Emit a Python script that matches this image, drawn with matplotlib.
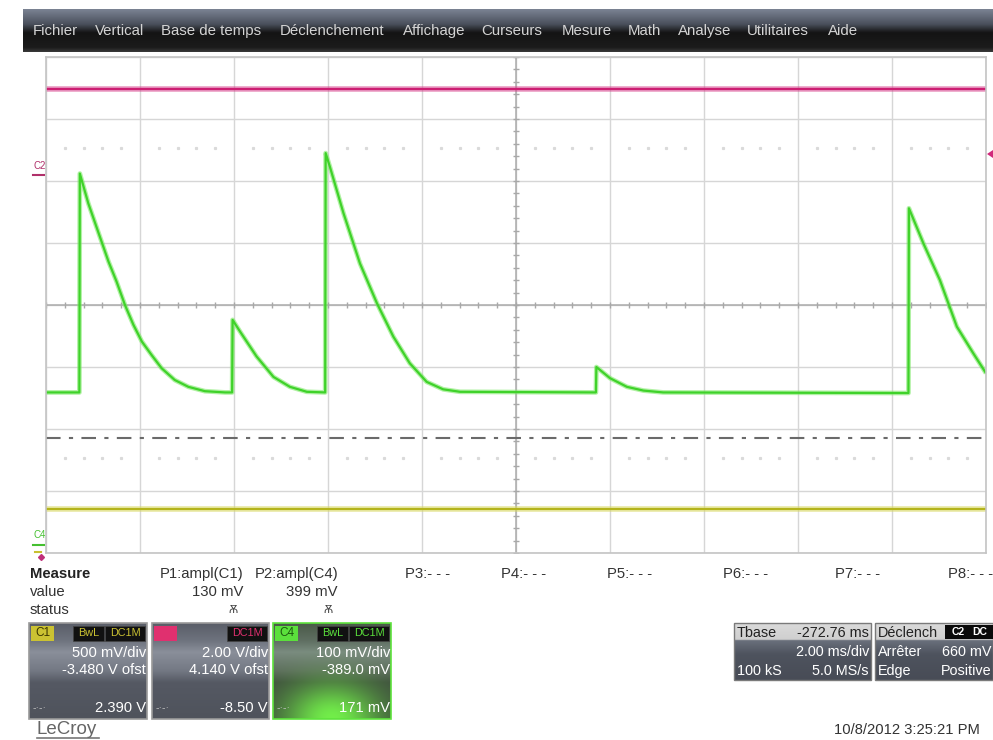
import numpy as np
import matplotlib
matplotlib.use("Agg")
import matplotlib.pyplot as plt
from matplotlib.patches import Rectangle, Polygon
from matplotlib.colors import to_rgb

plt.rcParams['font.family'] = ['Liberation Sans', 'DejaVu Sans']

# ---------------- data ----------------
menu_items = ["Fichier", "Vertical", "Base de temps", "Déclenchement", "Affichage",
              "Curseurs", "Mesure", "Math", "Analyse", "Utilitaires", "Aide"]

# C4 (green) trace: time in ms (trigger at 0), voltage in mV
c4_time_ms = [-10.00, -9.29, -9.28, -9.10, -8.89, -8.67, -8.50, -8.32, -8.14, -7.96, -7.75,
              -7.54, -7.26, -6.97, -6.62, -6.19, -6.04, -6.03, -5.87, -5.52, -5.16, -4.81,
              -4.45, -4.06, -4.05, -3.96, -3.67, -3.32, -2.96, -2.61, -2.26, -1.90, -1.55,
              -1.19, 1.70, 1.71, 2.00, 2.36, 2.71, 3.13, 8.35, 8.36, 8.67, 9.02, 9.38,
              9.73, 10.00]
c4_mV = [248, 248, 601, 553, 507, 459, 427, 389, 357, 330, 308,
         287, 268, 257, 250, 248, 248, 365, 346, 306, 273, 257,
         249, 248, 634, 612, 537, 456, 392, 338, 295, 265, 253,
         249, 248, 289, 271, 257, 251, 248, 247, 545, 488, 429, 354,
         311, 279]

# C2 (magenta) and C1 (yellow) traces: flat levels
c2_time_ms = [-10.0, 10.0]
c2_V = [2.82, 2.82]
c1_time_ms = [-10.0, 10.0]
c1_V = [1.835, 1.835]

# channel settings
c1_scale_V, c1_ofst_V = 0.5, -3.48
c2_scale_V, c2_ofst_V = 2.0, 4.14
c4_scale_mV, c4_ofst_mV = 100.0, -389.0
trigger_line_div = -2.15

measure_labels = ["P1:ampl(C1)", "P2:ampl(C4)", "P3:- - -", "P4:- - -",
                  "P5:- - -", "P6:- - -", "P7:- - -", "P8:- - -"]
measure_values = ["130 mV", "399 mV", "", "", "", "", "", ""]
measure_status = ["Ѫ", "Ѫ", "", "", "", "", "", ""]

channel_names = ["C1", "C2", "C4"]
channel_vdiv = ["500 mV/div", "2.00 V/div", "100 mV/div"]
channel_ofst = ["-3.480 V ofst", "4.140 V ofst", "-389.0 mV"]
channel_bottom = ["2.390 V", "-8.50 V", "171 mV"]

tbase_rows = [("Tbase", "-272.76 ms"), ("", "2.00 ms/div"), ("100 kS", "5.0 MS/s")]
trig_rows = [("Déclench", ""), ("Arrêter", "660 mV"), ("Edge", "Positive")]
date_text = "10/8/2012 3:25:21 PM"

# ---------------- figure ----------------
W, H = 993, 740
fig = plt.figure(figsize=(W / 100, H / 100), dpi=100, facecolor="white")

ov = fig.add_axes([0, 0, 1, 1])
ov.set_axis_off()
ov.patch.set_visible(False)


def grad_rect(x0, y0, x1, y1, stops, zorder=1):
    n = 100
    fr = np.linspace(0, 1, n)
    pos = [s[0] for s in stops]
    cols = np.array([to_rgb(s[1]) for s in stops])
    img = np.stack([np.interp(fr, pos, cols[:, k]) for k in range(3)], axis=-1)
    img = img[:, None, :]
    ov.imshow(img, extent=[x0, x1, y1, y0], aspect="auto", zorder=zorder,
              interpolation="bilinear")


# menu bar
grad_rect(23, 9, W, 52, [(0, "#7b8393"), (0.35, "#4a505c"), (0.55, "#141414"),
                         (0.9, "#1b1b1b"), (1.0, "#3a3a3a")])
menu_x = [33, 95, 161, 280, 403, 481, 562, 628, 678, 747, 828]
for name, x in zip(menu_items, menu_x):
    ov.text(x, 31, name, color="#d4d4d4", fontsize=10.8, va="center", ha="left", zorder=3)

# channel boxes
box_x = [(29, 147), (152, 269), (273, 391)]
tag_col = ["#cbc232", "#e0306f", "#5be03c"]
tag_txt = ["#3a3600", "#e0306f", "#1d5a10"]
by0, by1 = 623, 719
FS_BOX = 10.6
for i, (x0, x1) in enumerate(box_x):
    if i < 2:
        grad_rect(x0, by0, x1, by1, [(0, "#5a5e68"), (0.18, "#6e737e"), (0.3, "#8a8f9a"),
                                     (0.5, "#737883"), (0.62, "#555963"), (1.0, "#4f535c")])
    else:
        h, w = 100, 120
        yy, xx = np.mgrid[0:1:h * 1j, 0:1:w * 1j]
        pos = [0, 0.18, 0.3, 0.5, 0.62, 1.0]
        cols = np.array([to_rgb(c) for c in ["#4a5a48", "#5f6e62", "#7a8a80", "#5d6a5e",
                                              "#3e4a3e", "#3a463a"]])
        base = np.stack([np.interp(yy, pos, cols[:, k]) for k in range(3)], axis=-1)
        wgt = np.exp(-(((xx - 0.5) / 0.42) ** 2 + ((yy - 1.0) / 0.38) ** 2))
        glow = np.array(to_rgb("#72ee4a"))
        img = base * (1 - wgt[..., None]) + glow * wgt[..., None]
        ov.imshow(img, extent=[x0, x1, by1, by0], aspect="auto", zorder=1,
                  interpolation="bilinear")
    ec = "#5ee33c" if i == 2 else "#9a9a9a"
    ov.add_patch(Rectangle((x0, by0), x1 - x0, by1 - by0, fill=False, ec=ec, lw=1.2, zorder=2))
    # channel tag
    ov.add_patch(Rectangle((x0 + 2, 626), 23, 15, fc=tag_col[i], ec="none", zorder=3))
    ov.text(x0 + 13.5, 633.5, channel_names[i], color=tag_txt[i], fontsize=8.5,
            ha="center", va="center", zorder=4)
    # coupling tags
    if i != 1:
        ov.add_patch(Rectangle((x0 + 44, 626), 31, 15, fc="#111111", ec="#444", lw=0.5, zorder=3))
        ov.text(x0 + 59.5, 633.5, "BwL", color=tag_col[i], fontsize=7.8, ha="center",
                va="center", zorder=4)
    ov.add_patch(Rectangle((x1 - 42, 626), 40, 15, fc="#111111", ec="#444", lw=0.5, zorder=3))
    ov.text(x1 - 22, 633.5, "DC1M", color=tag_col[i], fontsize=7.8, ha="center",
            va="center", zorder=4)
    ov.text(x1 - 1, 653, channel_vdiv[i], color="white", fontsize=FS_BOX, ha="right",
            va="center", zorder=4)
    ov.text(x1 - 1, 670, channel_ofst[i], color="white", fontsize=FS_BOX, ha="right",
            va="center", zorder=4)
    ov.text(x1 - 1, 708, channel_bottom[i], color="white", fontsize=FS_BOX, ha="right",
            va="center", zorder=4)
    ov.text(x0 + 4, 708, "-·-·", color="#c0c0c0", fontsize=7.5, ha="left",
            va="center", zorder=4)

# time base / trigger boxes
for (x0, x1), rows, tag in [((734, 871), tbase_rows, False), ((875, 993), trig_rows, True)]:
    grad_rect(x0, 623, x1, 680, [(0, "#dadada"), (0.29, "#cfcfcf"), (0.3, "#6a707c"),
                                 (0.55, "#4e535e"), (1.0, "#484c56")])
    ov.add_patch(Rectangle((x0, 623), x1 - x0, 57, fill=False, ec="#7a7a7a", lw=1, zorder=2))
    for j, (lt, rt) in enumerate(rows):
        yv = 633 + j * 19
        col = "#222222" if j == 0 else "white"
        if lt:
            ov.text(x0 + 3, yv, lt, color=col, fontsize=10.4, ha="left", va="center", zorder=4)
        if rt:
            ov.text(x1 - 2, yv, rt, color=col, fontsize=10.4, ha="right", va="center", zorder=4)
    if tag:
        ov.add_patch(Rectangle((945, 625), 48, 14, fc="#0a0a0a", ec="none", zorder=3))
        ov.text(958, 632, "C2", color="white", fontsize=7.5, ha="center", va="center",
                zorder=4, fontweight="bold")
        ov.text(980, 632, "DC", color="white", fontsize=7.5, ha="center", va="center",
                zorder=4, fontweight="bold")

# measure table
FS_M = 10.7
ov.text(30, 574, "Measure", fontsize=FS_M, fontweight="bold", color="#222", va="center")
ov.text(30, 592, "value", fontsize=FS_M, color="#333", va="center")
ov.text(30, 610, "status", fontsize=FS_M, color="#333", va="center")
meas_right = [243, 338, 450, 546, 652, 768, 880, 993]
for lab, val, st, xr in zip(measure_labels, measure_values, measure_status, meas_right):
    ov.text(xr, 574, lab, fontsize=FS_M, color="#333", ha="right", va="center")
    if val:
        ov.text(xr, 592, val, fontsize=FS_M, color="#333", ha="right", va="center")
    if st:
        ov.text(xr - 10, 610, st, fontsize=8, color="#444", ha="center", va="center")

ov.text(980, 730, date_text, fontsize=10.6, color="#333", ha="right", va="center")
ov.text(37, 729, "LeCroy", fontsize=13.5, color="#666", ha="left", va="center")
ov.plot([37, 99], [738, 738], color="#777", lw=1.2)

# left / right markers
ov.text(33, 166, "C2", fontsize=7, color="#b0306a", ha="left", va="center")
ov.plot([33, 44], [175, 175], color="#b0306a", lw=1.5)
ov.text(33, 535, "C4", fontsize=7, color="#45c030", ha="left", va="center")
ov.plot([33, 44], [545, 545], color="#45c030", lw=1.5)
ov.plot([35, 41], [552, 552], color="#c8c030", lw=1.5)
ov.plot([41], [557], marker="D", ms=3, color="#c0307a")
ov.add_patch(Polygon([[987, 154], [993, 150], [993, 158]], closed=True, fc="#d0287a", ec="none"))

ov.set_xlim(0, W)
ov.set_ylim(H, 0)

# ---------------- scope graticule ----------------
ax = fig.add_axes([46 / W, 1 - 553 / H, 940 / W, 496 / H])
ax.set_xlim(-10, 10)
ax.set_ylim(-4, 4)
ax.set_facecolor("white")
ax.set_xticks(np.arange(-10, 11, 2))
ax.set_yticks(np.arange(-4, 5, 1))
ax.tick_params(length=0, labelbottom=False, labelleft=False)
ax.grid(True, color="#d6d6d6", lw=1)
for s in ax.spines.values():
    s.set_color("#c4c4c4")
    s.set_linewidth(1.2)

# centre cross with minor ticks
ax.axvline(0, color="#acacac", lw=1.1)
ax.axhline(0, color="#acacac", lw=1.1)
mx = np.arange(-10, 10.01, 0.4)
my = np.arange(-4, 4.01, 0.2)
ax.plot(mx, np.zeros_like(mx), ls="none", marker="|", ms=4, color="#a8a8a8", mew=1)
ax.plot(np.zeros_like(my), my, ls="none", marker="_", ms=4, color="#a8a8a8", mew=1)

# faint dotted rows
for yd in (2.53, -2.47):
    dots = mx[np.abs(np.round(mx / 2) * 2 - mx) > 1e-6]
    ax.plot(dots, np.full_like(dots, yd), ls="none", marker="s", ms=1.3, color="#dadada")

# trigger dash-dot line
ax.axhline(trigger_line_div, color="#6a6a6a", lw=1.5, ls=(0, (7, 4, 2, 4)))

# traces
c2_div = (np.array(c2_V) + c2_ofst_V) / c2_scale_V
c1_div = (np.array(c1_V) + c1_ofst_V) / c1_scale_V
c4_div = (np.array(c4_mV) + c4_ofst_mV) / c4_scale_mV

ax.plot(c2_time_ms, c2_div, color="#d8448e", lw=4, alpha=0.55, solid_capstyle="butt")
ax.plot(c2_time_ms, c2_div, color="#cc1f72", lw=1.6, solid_capstyle="butt")
ax.plot(c1_time_ms, c1_div, color="#d8d860", lw=4, alpha=0.6, solid_capstyle="butt")
ax.plot(c1_time_ms, c1_div, color="#b4b41c", lw=1.5, solid_capstyle="butt")
ax.plot(c4_time_ms, c4_div, color="#7ee868", lw=3.4, alpha=0.6, solid_capstyle="butt")
ax.plot(c4_time_ms, c4_div, color="#3fd22a", lw=1.6, solid_capstyle="butt")

fig.savefig("out.png", dpi=100, facecolor="white")
